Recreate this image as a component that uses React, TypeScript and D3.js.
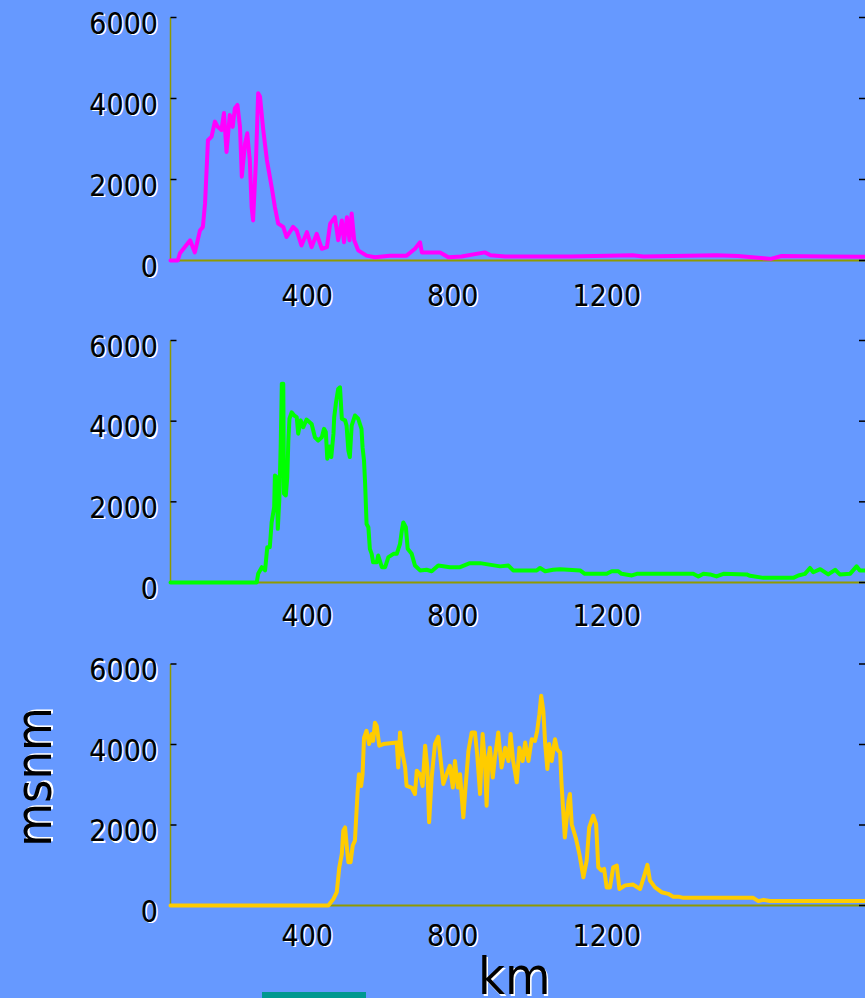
import React from "react";
import * as d3 from "d3";

// ---- data (km, msnm) ----
const profile1Km = [0,20,26,54,67,81,89,95,103,113,122,130,140,147,154,163,171,177,184,191,196,205,211,218,223,227,235,241,246,255,265,278,287,296,310,319,337,347,360,375,388,402,416,430,439,452,461,471,477,485,492,498,505,516,539,562,603,649,672,686,691,741,764,800,864,880,920,1000,1100,1270,1300,1500,1560,1650,1680,1800,1910];
const profile1Elev = [0,0,180,500,200,740,830,1410,2970,3060,3430,3300,3220,3640,2680,3590,3300,3760,3840,3300,2070,2890,3140,2480,1320,990,2480,4130,4050,3220,2480,1820,1320,910,830,580,830,740,370,700,330,660,290,330,910,1070,500,990,450,1070,500,1160,500,250,120,80,120,120,290,450,200,200,80,100,200,130,100,100,100,130,100,130,110,40,110,100,90];

const profile2Km = [0,237,241,251,260,266,273,278,285,287,292,295,299,303,306,310,312,317,321,324,327,333,340,347,351,358,365,374,388,397,406,416,422,427,431,437,442,448,450,455,461,466,471,480,484,489,493,498,507,516,525,528,532,535,539,544,548,553,557,567,571,581,590,599,613,622,631,636,640,647,652,663,672,686,704,718,736,768,796,823,851,906,929,942,1007,1016,1030,1052,1071,1126,1139,1199,1213,1231,1240,1268,1282,1437,1451,1465,1483,1501,1520,1584,1593,1630,1712,1726,1744,1758,1767,1786,1808,1827,1840,1868,1886,1895,1910];
const profile2Elev = [0,0,215,380,300,875,875,1490,1870,2650,2610,1330,2030,3440,4930,4930,2200,2160,2610,3520,4060,4220,4140,4100,3690,4020,3850,4040,3930,3600,3520,3600,3810,3730,3070,3370,3110,3690,4100,4470,4800,4840,4060,4020,3890,3270,3110,3890,4140,4060,3810,3350,3020,2450,1450,1370,835,710,500,500,670,380,380,630,710,710,960,1290,1490,1370,835,710,420,300,315,280,420,380,380,480,480,400,420,300,300,360,280,315,330,300,215,215,280,280,215,175,215,215,150,215,200,150,215,200,165,115,115,175,215,360,255,330,200,315,200,215,400,300,300];

const profile3Km = [0,434,448,457,464,471,475,480,484,489,495,501,507,514,518,524,528,532,539,546,553,557,562,567,574,585,622,626,631,635,645,649,663,672,677,686,693,700,706,711,718,727,736,743,750,759,768,776,782,790,796,805,811,819,828,837,843,851,858,865,869,874,878,886,892,901,910,920,929,935,942,952,959,968,975,984,993,1002,1008,1014,1019,1025,1030,1036,1041,1048,1057,1063,1071,1075,1084,1094,1098,1103,1115,1124,1135,1144,1151,1162,1170,1176,1185,1192,1199,1208,1217,1227,1234,1250,1272,1291,1304,1311,1318,1332,1350,1368,1382,1396,1410,1602,1616,1630,1648,1910];
const profile3Elev = [0,0,165,330,950,1280,1860,1940,1530,1075,1075,1490,1610,2770,3260,2970,3260,4170,4340,4010,4260,4090,4540,4460,3970,4010,4050,3430,4300,3920,3430,2970,2930,2770,3350,3260,2970,3970,3430,2070,3180,4010,4190,3590,3020,3260,3470,2930,3590,2930,3260,2190,2930,3840,4300,4300,3760,2770,4260,3470,2480,3680,3920,3180,3680,4300,3430,3920,3590,4260,3590,3060,3920,3590,4050,3590,4130,4090,4340,4750,5210,4830,4010,3390,4010,3590,4130,3880,3800,3020,1690,2600,2770,2020,1650,1280,700,1110,1940,2230,2020,950,870,910,450,450,950,990,410,500,520,410,790,1010,620,450,330,290,220,220,190,190,110,140,110,110];

const yTicks = [0, 2000, 4000, 6000];
const xTicks = [400, 800, 1200];
const xAxisLabel = "km";
const yAxisLabel = "msnm";

const series = [
  { km: profile1Km, elev: profile1Elev, color: "#ff00ff", top: 17.5, bottom: 260.5, labelDy: 34 },
  { km: profile2Km, elev: profile2Elev, color: "#00ff00", top: 340.5, bottom: 582.5, labelDy: 32 },
  { km: profile3Km, elev: profile3Elev, color: "#ffcc00", top: 664, bottom: 905.5, labelDy: 29 },
];

const W = 865;
const H = 998;
const FONT = "'DejaVu Sans Condensed', 'DejaVu Sans', Tahoma, sans-serif";
const AXIS = "#8f9a00";

function ShadowText(props: any) {
  const { x, y, children, ...rest } = props;
  return (
    <g>
      <text x={x + 1.5} y={y + 1.5} fill="#ffffff" {...rest}>{children}</text>
      <text x={x} y={y} fill="#000000" {...rest}>{children}</text>
    </g>
  );
}

export default function App() {
  const x = d3.scaleLinear().domain([0, 1910]).range([170.5, 865.3]);
  return (
    <svg width={W} height={H} style={{ position: "absolute", left: 0, top: 0, background: "#6699ff" }}>
      <rect x={0} y={0} width={W} height={H} fill="#6699ff" />
      {series.map((s, i) => {
        const y = d3.scaleLinear().domain([0, 6000]).range([s.bottom, s.top]);
        const pts = s.km.map((k, j) => [k, s.elev[j]] as [number, number]);
        const line = d3.line<[number, number]>().x((d) => x(d[0])).y((d) => y(d[1]));
        return (
          <g key={i}>
            <line x1={170.5} x2={170.5} y1={y(6000)} y2={y(0)} stroke={AXIS} strokeWidth={1.5} />
            <line x1={170.5} x2={W} y1={y(0)} y2={y(0)} stroke={AXIS} strokeWidth={2} />
            {yTicks.map((t) => (
              <g key={t}>
                <line x1={170.5} x2={176.5} y1={y(t)} y2={y(t)} stroke="#000" strokeWidth={1.5} />
                <line x1={859} x2={865} y1={y(t)} y2={y(t)} stroke="#000" strokeWidth={1.5} />
                <ShadowText x={158} y={y(t) + 16} textAnchor="end" fontFamily={FONT} fontSize={30}>
                  {String(t)}
                </ShadowText>
              </g>
            ))}
            {xTicks.map((t) => (
              <ShadowText key={t} x={x(t) - 34.5} y={s.bottom + s.labelDy + 11} textAnchor="start" fontFamily={FONT} fontSize={30}>
                {String(t)}
              </ShadowText>
            ))}
            <path d={line(pts) || ""} fill="none" stroke={s.color} strokeWidth={4} strokeLinejoin="round" strokeLinecap="round" />
          </g>
        );
      })}
      <ShadowText x={478} y={994} fontFamily={FONT} fontSize={52}>{xAxisLabel}</ShadowText>
      <g transform="translate(51,777) rotate(-90)">
        <ShadowText x={0} y={0} textAnchor="middle" fontFamily={FONT} fontSize={50}>{yAxisLabel}</ShadowText>
      </g>
      <rect x={262} y={992} width={104} height={6} fill="#009990" />
    </svg>
  );
}
